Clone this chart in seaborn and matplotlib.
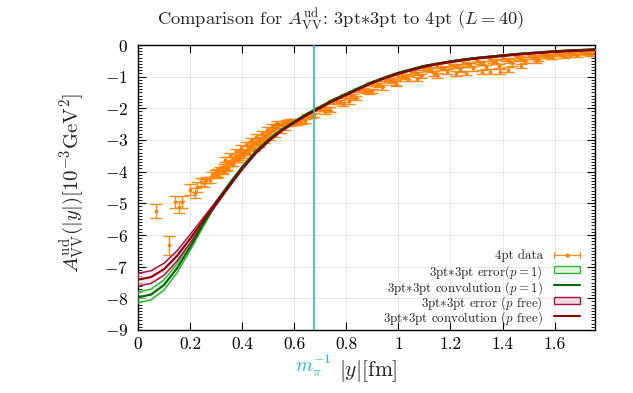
import numpy as np
import pandas as pd
import matplotlib
matplotlib.use("Agg")
import matplotlib.pyplot as plt
import seaborn as sns
from matplotlib.lines import Line2D
from matplotlib.patches import Rectangle
from matplotlib.ticker import FuncFormatter, MultipleLocator

# --- DATA ---
INV_MPI = 0.676  # 1/m_pi in fm

curve_x = [0.00, 0.05, 0.10, 0.15, 0.20, 0.25, 0.30, 0.35, 0.40, 0.45, 0.50, 0.55,
           0.60, 0.65, 0.70, 0.75, 0.80, 0.85, 0.90, 0.95, 1.00, 1.05, 1.10, 1.15,
           1.20, 1.25, 1.30, 1.35, 1.40, 1.45, 1.50, 1.55, 1.60, 1.65, 1.70, 1.76]

# 3pt*3pt convolution, p = 1 (green)
p1_center = [-7.97, -7.88, -7.58, -7.05, -6.38, -5.66, -4.98, -4.40, -3.86, -3.38, -3.00, -2.68,
             -2.42, -2.17, -1.95, -1.73, -1.54, -1.35, -1.17, -1.02, -0.88, -0.77, -0.66, -0.59,
             -0.52, -0.46, -0.41, -0.37, -0.33, -0.29, -0.26, -0.23, -0.20, -0.18, -0.16, -0.14]
p1_err = [0.17, 0.17, 0.16, 0.14, 0.11, 0.08, 0.05, 0.035, 0.025, 0.02, 0.02, 0.02,
          0.02, 0.015, 0.015, 0.015, 0.015, 0.015, 0.015, 0.015, 0.015, 0.015, 0.015, 0.015,
          0.015, 0.015, 0.015, 0.015, 0.015, 0.015, 0.015, 0.015, 0.015, 0.015, 0.015, 0.015]

# 3pt*3pt convolution, p free (red)
pfree_center = [-7.41, -7.33, -7.08, -6.66, -6.12, -5.55, -5.00, -4.45, -3.91, -3.43, -3.04, -2.71,
                -2.45, -2.20, -1.98, -1.76, -1.57, -1.38, -1.19, -1.04, -0.90, -0.79, -0.68, -0.60,
                -0.53, -0.47, -0.42, -0.38, -0.34, -0.30, -0.27, -0.24, -0.21, -0.19, -0.17, -0.15]
pfree_err = [0.20, 0.20, 0.19, 0.16, 0.13, 0.09, 0.06, 0.04, 0.03, 0.025, 0.02, 0.02,
             0.02, 0.02, 0.02, 0.02, 0.02, 0.02, 0.02, 0.02, 0.02, 0.02, 0.02, 0.02,
             0.02, 0.02, 0.02, 0.02, 0.02, 0.02, 0.02, 0.02, 0.02, 0.02, 0.02, 0.02]

# 4pt data: sparse short-distance points and the dense band up to 0.6 fm
near_x = [0.071, 0.119, 0.142, 0.157, 0.170, 0.198, 0.219, 0.228, 0.241, 0.253, 0.262, 0.275,
          0.283, 0.294, 0.302, 0.308, 0.315, 0.322, 0.330, 0.336, 0.343, 0.350, 0.357, 0.364,
          0.371, 0.378, 0.386, 0.393, 0.400, 0.408, 0.415, 0.423, 0.431, 0.439, 0.447, 0.455,
          0.463, 0.471, 0.480, 0.488, 0.497, 0.506, 0.515, 0.524, 0.533, 0.542, 0.552, 0.562,
          0.572, 0.582, 0.592]
near_y = [-5.24, -6.33, -4.96, -5.12, -4.96, -4.57, -4.67, -4.48, -4.32, -4.36, -4.27, -4.27,
          -4.10, -4.05, -3.98, -4.08, -3.92, -3.96, -3.84, -3.90, -3.75, -3.70, -3.76, -3.60,
          -3.62, -3.52, -3.56, -3.44, -3.42, -3.34, -3.38, -3.25, -3.22, -3.17, -3.08, -3.10,
          -3.00, -2.96, -2.90, -2.86, -2.80, -2.76, -2.68, -2.66, -2.58, -2.52, -2.50, -2.44,
          -2.42, -2.38, -2.40]
near_err = [0.22, 0.30, 0.20, 0.20, 0.20, 0.18, 0.15, 0.15, 0.12, 0.12, 0.10, 0.10,
            0.10, 0.10, 0.08, 0.08, 0.08, 0.08, 0.08, 0.08, 0.07, 0.07, 0.07, 0.07,
            0.07, 0.07, 0.06, 0.06, 0.06, 0.06, 0.06, 0.06, 0.06, 0.06, 0.06, 0.06,
            0.05, 0.05, 0.05, 0.05, 0.05, 0.05, 0.05, 0.05, 0.05, 0.05, 0.05, 0.05,
            0.05, 0.05, 0.05]
near_low_x = [0.305, 0.325, 0.345, 0.365, 0.385, 0.405, 0.425, 0.445, 0.465, 0.485, 0.505, 0.525,
              0.545, 0.565, 0.585]
near_low_y = [-4.12, -4.00, -3.88, -3.76, -3.64, -3.51, -3.40, -3.28, -3.16, -3.04, -2.93, -2.82,
              -2.70, -2.60, -2.50]
near_high_x = [0.335, 0.355, 0.375, 0.395, 0.415, 0.435, 0.455, 0.475, 0.495, 0.515, 0.535]
near_high_y = [-3.62, -3.48, -3.36, -3.24, -3.12, -3.00, -2.89, -2.78, -2.67, -2.57, -2.47]

# 4pt data beyond 0.6 fm: several strands of the band
strand_a_x = [0.60, 0.65, 0.70, 0.75, 0.80, 0.85, 0.90, 0.95, 1.00, 1.05, 1.10, 1.15,
              1.20, 1.25, 1.30, 1.35, 1.40, 1.45, 1.50, 1.55, 1.60, 1.65, 1.70, 1.75]
strand_a_y = [-2.46, -2.24, -2.02, -1.80, -1.61, -1.42, -1.24, -1.09, -0.95, -0.84, -0.73, -0.66,
              -0.59, -0.53, -0.48, -0.43, -0.39, -0.35, -0.32, -0.29, -0.26, -0.23, -0.21, -0.19]
strand_b_x = [0.6125, 0.6625, 0.7125, 0.7625, 0.8125, 0.8625, 0.9125, 0.9625, 1.0125, 1.0625,
              1.1125, 1.1625, 1.2125, 1.2625, 1.3125, 1.3625, 1.4125, 1.4625, 1.5125, 1.5625,
              1.6125, 1.6625, 1.7125]
strand_b_y = [-2.48, -2.24, -2.02, -1.80, -1.61, -1.43, -1.25, -1.11, -0.97, -0.86,
              -0.77, -0.72, -0.66, -0.60, -0.55, -0.50, -0.46, -0.41, -0.37, -0.33,
              -0.29, -0.26, -0.23]
strand_c_x = [0.625, 0.675, 0.725, 0.775, 0.825, 0.875, 0.925, 0.975, 1.025, 1.075, 1.125, 1.175,
              1.225, 1.275, 1.325, 1.375, 1.425, 1.475, 1.525, 1.575, 1.625, 1.675, 1.725]
strand_c_y = [-2.44, -2.22, -2.01, -1.80, -1.62, -1.44, -1.27, -1.13, -1.00, -0.90, -0.80, -0.74,
              -0.68, -0.62, -0.58, -0.54, -0.50, -0.44, -0.39, -0.34, -0.30, -0.27, -0.24]
strand_d_x = [0.7375, 0.7875, 0.8375, 0.8875, 0.9375, 0.9875, 1.0375, 1.0875, 1.1375, 1.1875,
              1.2375, 1.2875, 1.3375, 1.3875, 1.4375, 1.4875, 1.5375, 1.5875, 1.6375, 1.6875,
              1.7375]
strand_d_y = [-2.04, -1.86, -1.68, -1.49, -1.34, -1.18, -1.06, -0.98, -0.90, -0.84,
              -0.78, -0.74, -0.70, -0.66, -0.58, -0.50, -0.44, -0.38, -0.34, -0.30,
              -0.27]
teeth_x = [0.64, 0.72, 0.81, 0.90, 0.99, 1.07, 1.15, 1.22, 1.26, 1.32, 1.35, 1.39,
           1.42, 1.47, 1.53, 1.59, 1.66, 1.74]
teeth_y = [-2.40, -2.12, -1.78, -1.45, -1.22, -1.08, -0.96, -0.90, -0.88, -0.86, -0.84, -0.84,
           -0.78, -0.66, -0.50, -0.38, -0.32, -0.27]

x_ticks = [0, 0.2, 0.4, 0.6, 0.8, 1.0, 1.2, 1.4, 1.6]
y_ticks = [0, -1, -2, -3, -4, -5, -6, -7, -8, -9]

legend_labels = ["4pt data",
                 r"3pt$*$3pt error$(p=1)$",
                 r"3pt$*$3pt convolution $(p=1)$",
                 r"3pt$*$3pt error $(p$ free$)$",
                 r"3pt$*$3pt convolution $(p$ free$)$"]

# colours
ORANGE = "#ff7f00"
ORANGE_BAR = "#ff8c1a"
GREEN_LINE = "#006400"
GREEN_EDGE = "#2eb82e"
GREEN_FILL = "#dff3df"
RED_LINE = "#8b0000"
RED_EDGE = "#b0103f"
RED_FILL = "#f3dde4"
TEAL = "#1fbfbf"

W, H = 633, 393


def fx(px):
    return px / W


def fy(py):
    return 1 - py / H


def main():
    df_p1 = pd.DataFrame({"x": curve_x, "y": p1_center, "err": p1_err})
    df_pf = pd.DataFrame({"x": curve_x, "y": pfree_center, "err": pfree_err})

    sns.set_theme(style="ticks")
    plt.rcParams.update({
        "font.family": ["cmr10", "DejaVu Serif"],
        "mathtext.fontset": "cm",
        "axes.formatter.use_mathtext": True,
        "axes.unicode_minus": True,
        "axes.edgecolor": "black",
        "axes.linewidth": 1.0,
    })

    fig = plt.figure(figsize=(6.33, 3.93), dpi=100)
    ax = fig.add_axes([fx(138), fy(330), (595 - 138) / W, (330 - 45) / H])

    # 4pt data
    eb = dict(fmt="o", ms=1.6, color=ORANGE, ecolor=ORANGE_BAR, elinewidth=1.0,
              capsize=4.5, capthick=1.0, zorder=2)
    ax.errorbar(near_x, near_y, yerr=near_err, **eb)
    ax.errorbar(near_low_x, near_low_y, yerr=0.07, **eb)
    ax.errorbar(near_high_x, near_high_y, yerr=0.07, **eb)
    ax.errorbar(strand_a_x, strand_a_y, yerr=0.06, **eb)
    ax.errorbar(strand_b_x, strand_b_y, yerr=0.06, **eb)
    ax.errorbar(strand_c_x, strand_c_y, yerr=0.06, **eb)
    ax.errorbar(strand_d_x, strand_d_y, yerr=0.07, **eb)
    ax.errorbar(teeth_x, teeth_y, yerr=0.07, **eb)

    # bands + central curves
    for df, fill, edge, line in [(df_p1, GREEN_FILL, GREEN_EDGE, GREEN_LINE),
                                 (df_pf, RED_FILL, RED_EDGE, RED_LINE)]:
        lo = df["y"] - df["err"]
        hi = df["y"] + df["err"]
        ax.fill_between(df["x"], lo, hi, color=fill, alpha=0.6, lw=0, zorder=3)
        ax.plot(df["x"], lo, color=edge, lw=1.1, zorder=3)
        ax.plot(df["x"], hi, color=edge, lw=1.1, zorder=3)
        sns.lineplot(data=df, x="x", y="y", color=line, lw=1.5, ax=ax, zorder=4,
                     legend=False, estimator=None, sort=True)

    ax.axvline(INV_MPI, color=TEAL, lw=1.2, zorder=5)

    # axes
    ax.set_xlim(0, 1.755)
    ax.set_ylim(-9, 0)
    ax.set_xticks(x_ticks)
    ax.set_yticks(y_ticks)
    ax.yaxis.set_minor_locator(MultipleLocator(0.1))
    ax.xaxis.set_major_formatter(FuncFormatter(lambda v, p: "%g" % v))
    ax.yaxis.set_major_formatter(FuncFormatter(lambda v, p: "$%g$" % v if v != 0 else "$0$"))
    ax.tick_params(which="both", direction="in", top=True, right=True, colors="black",
                   labelsize=12.5)
    ax.tick_params(which="major", length=6, width=0.8, pad=7)
    ax.tick_params(which="minor", length=3, width=0.6)
    ax.tick_params(axis="x", pad=5)
    ax.grid(True, which="major", color="#e4e4e4", lw=0.6)
    ax.set_axisbelow(True)
    for s in ax.spines.values():
        s.set_visible(True)
        s.set_color("black")
    ax.set_xlabel("")
    ax.set_ylabel("")

    fig.text(fx(341), fy(19),
             r"Comparison for $A_{\rm VV}^{\rm ud}$: 3pt$*$3pt to 4pt $(L=40)$",
             ha="center", va="center", fontsize=13.3)
    fig.text(fx(72), fy(183), r"$A_{\rm VV}^{\rm ud}(|y|)[10^{-3}{\rm GeV}^2]$",
             rotation=90, ha="center", va="center", fontsize=15)
    fig.text(fx(368), fy(371), r"$|y|[{\rm fm}]$", ha="center", va="center", fontsize=15.5)
    fig.text(fx(313), fy(366), r"$m_\pi^{-1}$", ha="center", va="center",
             fontsize=14, color=TEAL)

    # key, gnuplot style: right-aligned text with the sample to its right
    key_y = [254.5, 269.8, 285.1, 300.4, 315.7]
    tx, s0, s1 = 543, 554, 580
    for yk, lab in zip(key_y, legend_labels):
        fig.text(fx(tx), fy(yk), lab, ha="right", va="center_baseline", fontsize=9.3)
    y0 = key_y[0]
    fig.add_artist(Line2D([fx(s0), fx(s1)], [fy(y0), fy(y0)], color=ORANGE_BAR, lw=0.9,
                          transform=fig.transFigure))
    for xe in (s0, s1):
        fig.add_artist(Line2D([fx(xe), fx(xe)], [fy(y0 - 3), fy(y0 + 3)], color=ORANGE_BAR,
                              lw=0.9, transform=fig.transFigure))
    fig.add_artist(Line2D([fx((s0 + s1) / 2)], [fy(y0)], marker="o", ms=2, color=ORANGE,
                          transform=fig.transFigure))
    for yk, fill, edge in [(key_y[1], GREEN_FILL, GREEN_EDGE), (key_y[3], RED_FILL, RED_EDGE)]:
        fig.add_artist(Rectangle((fx(s0), fy(yk + 3.5)), (s1 - s0) / W, 7 / H,
                                 facecolor=fill, edgecolor=edge, lw=1,
                                 transform=fig.transFigure))
    for yk, col in [(key_y[2], GREEN_LINE), (key_y[4], RED_LINE)]:
        fig.add_artist(Line2D([fx(s0), fx(s1)], [fy(yk), fy(yk)], color=col, lw=1.5,
                              transform=fig.transFigure))

    fig.savefig("out.png", dpi=100)


if __name__ == "__main__":
    main()
